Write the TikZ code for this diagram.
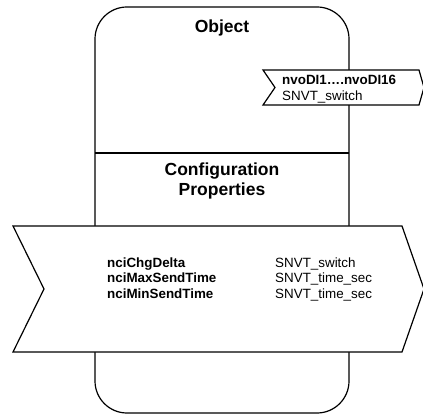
\documentclass[tikz,border=0pt]{standalone}
\usepackage{fontspec}
\setmainfont{Liberation Sans}
\usetikzlibrary{positioning}

\begin{document}
\begin{tikzpicture}[x=1pt, y=-1pt,
			outline/.style={draw, line width=1.2pt, line join=miter},
			flag/.style={outline, fill=white},
			heading/.style={font=\fontsize{17.5}{20}\selectfont\bfseries, align=center, inner sep=0pt},
			entry/.style={font=\fontsize{13.4}{15.5}\selectfont, align=left, inner sep=0pt, anchor=north west},
			bentry/.style={entry, font=\fontsize{13.4}{15.5}\selectfont\bfseries}
			]
			\useasboundingbox (0,0) rectangle (423,414);
			
			% object body
			\draw[outline, rounded corners=32pt] (95,413) rectangle (349,7);
			\draw[outline] (95,153) -- (349,153);
			\node[heading, anchor=base] (obj) at (222,33) {Object};
			\node[heading, anchor=north] (cfg) at (222,162.5) {Configuration\\Properties};
			
			% output variable
			\draw[flag] (263,70) -- (419,70) -- (424,87.5) -- (419,105) -- (263,105) -- (275,87.5) -- cycle;
			\node[entry] (dilabel) at (282,75) {\textbf{nvoDI1….nvoDI16}\\SNVT\_switch};
			
			% configuration properties
			\draw[flag] (13,226) -- (402,226) -- (424,289) -- (402,352) -- (13,352) -- (44,289) -- cycle;
			\node[bentry] (cpnames) at (107,257.5) {nciChgDelta\\nciMaxSendTime\\nciMinSendTime};
			\node[entry] (cptypes) at (275,257.5) {SNVT\_switch\\SNVT\_time\_sec\\SNVT\_time\_sec};
\end{tikzpicture}
\end{document}
